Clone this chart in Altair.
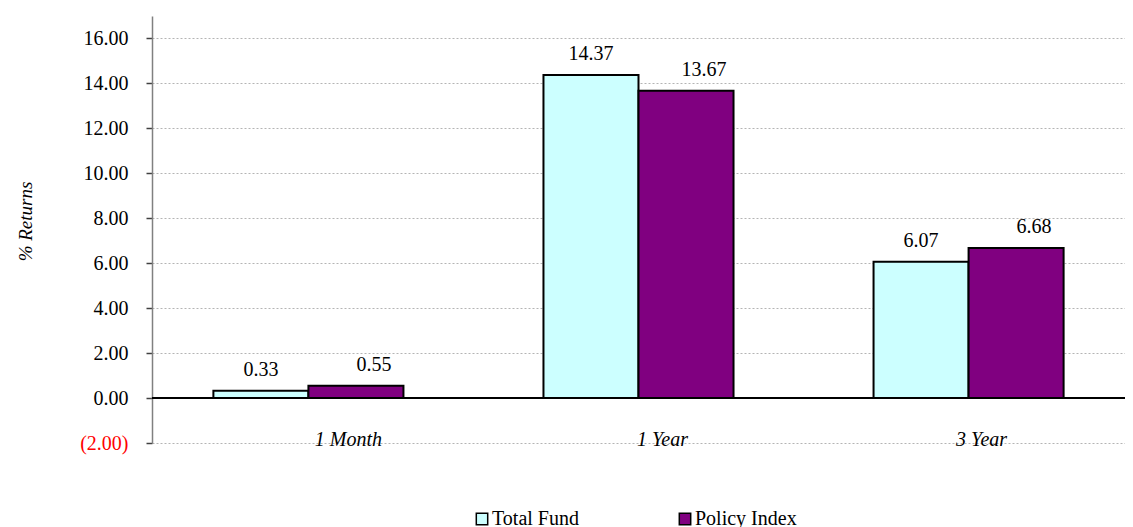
import altair as alt
import pandas as pd

categories = ["1 Month", "1 Year", "3 Year"]
total_fund = [0.33, 14.37, 6.07]
policy_index = [0.55, 13.67, 6.68]
series = ["Total Fund", "Policy Index"]
colors = ["#CCFFFF", "#800080"]
y_ticks = [-2, 0, 2, 4, 6, 8, 10, 12, 14, 16]

rows = []
for c, t, p in zip(categories, total_fund, policy_index):
    rows.append({"period": c, "series": "Total Fund", "value": t})
    rows.append({"period": c, "series": "Policy Index", "value": p})
df = pd.DataFrame(rows)

FONT = "Times New Roman, Liberation Serif, DejaVu Serif, serif"

x = alt.X(
    "period:N", sort=categories, title=None,
    scale=alt.Scale(paddingInner=0.4242, paddingOuter=0.186),
    axis=alt.Axis(
        domain=False, ticks=False, grid=False, labelAngle=0,
        labelFont=FONT, labelFontSize=20, labelFontStyle="italic",
        labelColor="black", labelBaseline="middle", labelPadding=-4,
        labelOffset={
            "condition": [
                {"test": "datum.value == '1 Month'", "value": 40},
                {"test": "datum.value == '1 Year'", "value": 24},
            ],
            "value": 13,
        },
    ),
)
xoff = alt.XOffset("series:N", sort=series,
                   scale=alt.Scale(paddingInner=0, paddingOuter=0))
y = alt.Y(
    "value:Q", title="% Returns",
    scale=alt.Scale(domain=[-2, 17], nice=False, zero=False),
    axis=alt.Axis(
        values=y_ticks,
        labelExpr="datum.value < 0 ? '(' + format(-datum.value, '.2f') + ')' : format(datum.value, '.2f')",
        labelColor={"condition": {"test": "datum.value < 0", "value": "#FF0000"}, "value": "black"},
        labelFont=FONT, labelFontSize=20, labelPadding=18,
        domainColor="#808080", domainWidth=1.5,
        tickColor="#404040", tickSize=6, tickWidth=1.5,
        grid=True, gridColor="#b4b4b4", gridDash=[2, 2], gridWidth=1,
        titleFont=FONT, titleFontSize=19, titleFontStyle="italic",
        titleFontWeight="normal", titleColor="black",
        titleX=-127, titleY=205, titleBaseline="middle",
    ),
)
color = alt.Color(
    "series:N", sort=series,
    scale=alt.Scale(domain=series, range=colors),
    legend=alt.Legend(
        orient="none", legendX=320, legendY=493, direction="horizontal",
        title=None, symbolType="square", symbolSize=130,
        symbolStrokeColor="black", symbolStrokeWidth=1.5, symbolOpacity=1,
        labelFont=FONT, labelFontSize=20, labelColor="black",
        columnPadding=96, labelOffset=0, padding=0,
    ),
)

base = alt.Chart(df)

bars = base.mark_bar(stroke="black", strokeWidth=2, opacity=1).encode(
    x=x, xOffset=xoff, y=y, y2=alt.datum(0), color=color
)

zero = base.mark_rule(color="black", strokeWidth=1.5).encode(y=alt.datum(0))

text_tf = base.transform_filter(alt.datum.series == "Total Fund").mark_text(
    font=FONT, fontSize=20, baseline="alphabetic", dy=-15, color="black"
).encode(x=x, xOffset=xoff, y=y, text=alt.Text("value:Q", format=".2f"))

text_pi = base.transform_filter(alt.datum.series == "Policy Index").mark_text(
    font=FONT, fontSize=20, baseline="alphabetic", dy=-15, dx=18, color="black"
).encode(x=x, xOffset=xoff, y=y, text=alt.Text("value:Q", format=".2f"))

chart = alt.layer(zero, bars, text_tf, text_pi).resolve_scale(
    xOffset="shared"
).properties(
    width=973, height=427,
    autosize=alt.AutoSizeParams(type="none"),
    padding={"left": 144, "top": 8, "right": 0, "bottom": 86},
).configure_view(stroke=None)

chart.save("out.html", embed_options={"renderer": "svg", "actions": False})
